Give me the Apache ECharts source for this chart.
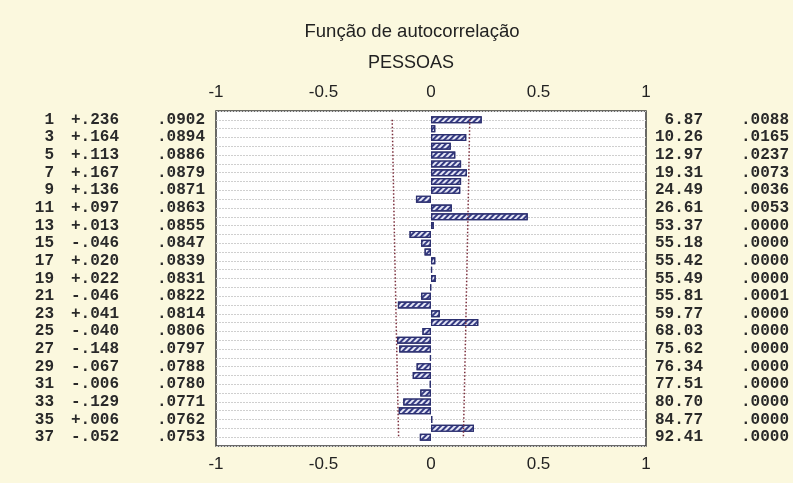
<!DOCTYPE html>
<html>
<head>
<meta charset="utf-8">
<script src="https://cdn.jsdelivr.net/npm/echarts@6/dist/echarts.min.js"></script>
<style>
html,body{margin:0;padding:0;background:#fbf8de;}
#chart{width:793px;height:483px;}
</style>
</head>
<body>
<div id="chart"></div>
<script>
// Lags 1..37 and autocorrelation values (odd lags printed, even lags)
const lags = [1,2,3,4,5,6,7,8,9,10,11,12,13,14,15,16,17,18,19,20,21,22,23,24,25,26,27,28,29,30,31,32,33,34,35,36,37];
const acf = [0.236,0.020,0.164,0.092,0.113,0.140,0.167,0.140,0.136,-0.070,0.097,0.450,0.013,-0.100,-0.046,-0.030,0.020,0.005,0.022,-0.003,-0.046,-0.154,0.041,0.220,-0.040,-0.158,-0.148,-0.005,-0.067,-0.085,-0.006,-0.050,-0.129,-0.150,0.006,0.200,-0.052];
// Printed rows (odd lags)
const oddLags = [1,3,5,7,9,11,13,15,17,19,21,23,25,27,29,31,33,35,37];
const acfText = ['+.236','+.164','+.113','+.167','+.136','+.097','+.013','-.046','+.020','+.022','-.046','+.041','-.040','-.148','-.067','-.006','-.129','+.006','-.052'];
const stdErr = [0.0902,0.0894,0.0886,0.0879,0.0871,0.0863,0.0855,0.0847,0.0839,0.0831,0.0822,0.0814,0.0806,0.0797,0.0788,0.0780,0.0771,0.0762,0.0753];
const seText = ['.0902','.0894','.0886','.0879','.0871','.0863','.0855','.0847','.0839','.0831','.0822','.0814','.0806','.0797','.0788','.0780','.0771','.0762','.0753'];
const qStat = ['6.87','10.26','12.97','19.31','24.49','26.61','53.37','55.18','55.42','55.49','55.81','59.77','68.03','75.62','76.34','77.51','80.70','84.77','92.41'];
const pText = ['.0088','.0165','.0237','.0073','.0036','.0053','.0000','.0000','.0000','.0000','.0001','.0000','.0000','.0000','.0000','.0000','.0000','.0000','.0000'];
const xTicks = [-1,-0.5,0,0.5,1];

const cats = [''].concat(lags.map(String)).concat(['']);
const rowOf = {};
oddLags.forEach((l,i)=>{rowOf[l]=i;});

const chart = echarts.init(document.getElementById('chart'));
const mono = 'Liberation Mono';
const txt = '#2a2a2a';
const tickLabel = {
  fontFamily: 'Liberation Sans', fontSize: 17, color: '#222', margin: 10,
  formatter: v => (xTicks.indexOf(v) >= 0 ? String(v) : '')
};
const rs = (w) => ({fontFamily: mono, fontSize: 16, fontWeight: 'bold', color: txt, width: w, align: 'right'});
chart.setOption({
  backgroundColor: '#fbf8de',
  animation: false,
  title: [
    {text: 'Função de autocorrelação', left: 407, top: 17, textAlign: 'center',
     textStyle: {fontFamily: 'Liberation Sans', fontSize: 18.5, fontWeight: 'normal', color: '#222'}},
    {text: 'PESSOAS', left: 406, top: 49, textAlign: 'center',
     textStyle: {fontFamily: 'Liberation Sans', fontSize: 18, fontWeight: 'normal', color: '#222'}}
  ],
  grid: {left: 216, right: 147, top: 111, bottom: 37, show: true,
         backgroundColor: '#ffffff', borderColor: '#3a3a3a', borderWidth: 1.5},
  xAxis: [
    {type: 'value', position: 'top', min: -1, max: 1, interval: 0.5,
     axisLine: {show: false}, axisTick: {show: false}, splitLine: {show: false},
     axisLabel: tickLabel},
    {type: 'value', position: 'bottom', min: -1, max: 1, interval: 0.5,
     axisLine: {show: false}, axisTick: {show: false}, splitLine: {show: false},
     axisLabel: tickLabel}
  ],
  yAxis: [
    {type: 'category', data: cats, inverse: true, boundaryGap: false, position: 'left',
     axisLine: {show: false}, axisTick: {show: false},
     splitLine: {show: true, interval: 0, lineStyle: {color: '#cfcfcf', type: [2, 1], width: 1}},
     axisLabel: {
       interval: 0, margin: 11, fontFamily: mono, fontSize: 16, color: txt,
       formatter: (v) => {
         const l = Number(v);
         if (!(l in rowOf)) return '';
         const i = rowOf[l];
         return '{a|' + l + '}{b|' + acfText[i] + '}{c|' + seText[i] + '}';
       },
       rich: {a: rs(22), b: rs(65), c: rs(86)}
     }},
    {type: 'category', data: cats, inverse: true, boundaryGap: false, position: 'right',
     axisLine: {show: false}, axisTick: {show: false}, splitLine: {show: false},
     axisLabel: {
       interval: 0, margin: 4, fontFamily: mono, fontSize: 16, color: txt, align: 'left',
       formatter: (v) => {
         const l = Number(v);
         if (!(l in rowOf)) return '';
         const i = rowOf[l];
         return '{q|' + qStat[i] + '}{p|' + pText[i] + '}';
       },
       rich: {q: rs(53), p: rs(86)}
     }}
  ],
  series: [
    {type: 'bar', xAxisIndex: 0, yAxisIndex: 0, barWidth: 7,
     data: acf.map((v, i) => [v, lags[i]]),
     itemStyle: {color: '#e4e5f5', borderColor: '#2c3070', borderWidth: 1.2,
       decal: {symbol: 'rect', symbolSize: 1, dashArrayX: [[1, 0]], dashArrayY: [2, 2],
               rotation: -Math.PI / 4, color: '#343a82'}}},
    {type: 'line', xAxisIndex: 0, yAxisIndex: 0, symbol: 'none',
     data: oddLags.map((l, i) => [-2 * stdErr[i], l]),
     lineStyle: {color: '#7a2c3a', width: 1.5, type: [1.5, 2]}},
    {type: 'line', xAxisIndex: 0, yAxisIndex: 0, symbol: 'none',
     data: oddLags.map((l, i) => [2 * stdErr[i], l]),
     lineStyle: {color: '#7a2c3a', width: 1.5, type: [1.5, 2]}}
  ]
});
</script>
</body>
</html>
